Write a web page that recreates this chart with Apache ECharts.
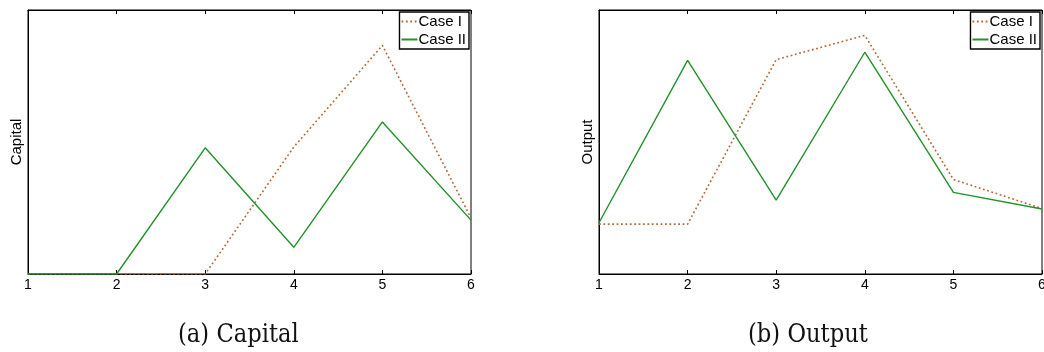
<!DOCTYPE html>
<html>
<head>
<meta charset="utf-8">
<script src="https://cdn.jsdelivr.net/npm/echarts@6/dist/echarts.min.js"></script>
<style>
  html, body { margin: 0; padding: 0; background: #fff; }
  #chart { width: 1044px; height: 352px; }
</style>
</head>
<body>
<div id="chart"></div>
<script>
// Periods on the horizontal axis
const periods = [1, 2, 3, 4, 5, 6];
const xTicks = ['1', '2', '3', '4', '5', '6'];

// Panel (a): capital paths (arbitrary units, 0–100)
const capitalCaseI  = [0, 0, 0, 48.1, 86.6, 21.2];
const capitalCaseII = [0, 0, 47.8, 10.1, 57.6, 20.4];

// Panel (b): output paths (arbitrary units, 0–100)
const outputCaseI  = [18.9, 18.9, 81.2, 90.4, 35.8, 24.8];
const outputCaseII = [19.4, 80.9, 28.0, 84.0, 30.9, 24.6];

const seriesNames = ['Case I', 'Case II'];
const panelTitles = ['Capital', 'Output'];
const captions = ['(a) Capital', '(b) Output'];

const colorI = '#b4693a';
const colorII = '#23912a';
const sansFont = 'Liberation Sans, Arial, sans-serif';

const pairs = (ys) => periods.map((x, i) => [x, ys[i]]);

const grids = [
  { left: 28, top: 10, width: 443, height: 264 },
  { left: 599, top: 10, width: 443, height: 264 }
].map(g => Object.assign(g, {
  show: true, borderColor: '#000', borderWidth: 1, backgroundColor: '#fff',
  containLabel: false, outerBoundsMode: 'none'
}));

const xAxes = [];
const yAxes = [];
[0, 1].forEach(gi => {
  // bottom axis with labels, ticks pointing inwards
  xAxes.push({
    type: 'value', gridIndex: gi, min: 1, max: 6, interval: 1, position: 'bottom',
    axisLine: { show: true, lineStyle: { color: '#000', width: 1 } },
    axisTick: { show: true, inside: true, length: 4, lineStyle: { color: '#000' } },
    axisLabel: {
      show: true, color: '#000', fontSize: 14, fontFamily: sansFont, margin: 4,
      hideOverlap: false,
      formatter: v => xTicks[periods.indexOf(v)] ?? ''
    },
    splitLine: { show: false }
  });
  // top axis: ticks only
  xAxes.push({
    type: 'value', gridIndex: gi, min: 1, max: 6, interval: 1, position: 'top',
    axisLine: { show: true, lineStyle: { color: '#000', width: 1 } },
    axisTick: { show: true, inside: true, length: 4, lineStyle: { color: '#000' } },
    axisLabel: { show: false },
    splitLine: { show: false }
  });
  yAxes.push({
    type: 'value', gridIndex: gi, min: 0, max: 100,
    name: panelTitles[gi], nameLocation: 'middle', nameRotate: 90, nameGap: 4,
    nameTextStyle: { color: '#000', fontSize: 15, fontFamily: sansFont },
    axisLine: { show: true, lineStyle: { color: '#000', width: 1 } },
    axisTick: { show: false }, axisLabel: { show: false }, splitLine: { show: false }
  });
});

function lineSeries(name, data, gi, color, dotted) {
  return {
    type: 'line', name, data: pairs(data),
    xAxisIndex: gi * 2, yAxisIndex: gi,
    symbol: 'none', silent: true, animation: false,
    lineStyle: { color, width: dotted ? 1.6 : 1.4, type: dotted ? [1.8, 2.6] : 'solid' },
    itemStyle: { color },
    z: dotted ? 3 : 4
  };
}

// Legend shows only the line sample (symbol made transparent)
const legendFor = (gi, right) => ({
  data: seriesNames.map(n => n + (gi ? ' ' : '')),
  formatter: n => n.trim(),
  orient: 'vertical', right, top: 12,
  itemWidth: 16, itemHeight: 10, itemGap: 3,
  padding: [2, 3, 2, 1],
  itemStyle: { color: 'transparent', borderColor: 'transparent', borderWidth: 0, opacity: 0 },
  borderColor: '#000', borderWidth: 1.4, backgroundColor: '#fff',
  textStyle: { color: '#000', fontSize: 15, fontFamily: sansFont, padding: [0, 0, 0, -4] },
  selectedMode: false
});

const captionStyle = { font: '22px "DejaVu Serif", serif', fill: '#111', verticalAlign: 'top' };

const option = {
  animation: false,
  backgroundColor: '#fff',
  grid: grids,
  xAxis: xAxes,
  yAxis: yAxes,
  legend: [legendFor(0, 575), legendFor(1, 4)],
  series: [
    lineSeries('Case I', capitalCaseI, 0, colorI, true),
    lineSeries('Case II', capitalCaseII, 0, colorII, false),
    lineSeries('Case I ', outputCaseI, 1, colorI, true),
    lineSeries('Case II ', outputCaseII, 1, colorII, false)
  ],
  graphic: [
    { type: 'text', x: 178, y: 323, scaleX: 1.03, scaleY: 1.15,
      style: Object.assign({ text: captions[0] }, captionStyle) },
    { type: 'text', x: 748, y: 323, scaleX: 1.03, scaleY: 1.15,
      style: Object.assign({ text: captions[1] }, captionStyle) }
  ]
};

const chart = echarts.init(document.getElementById('chart'), null, { renderer: 'canvas' });
chart.setOption(option);
</script>
</body>
</html>
